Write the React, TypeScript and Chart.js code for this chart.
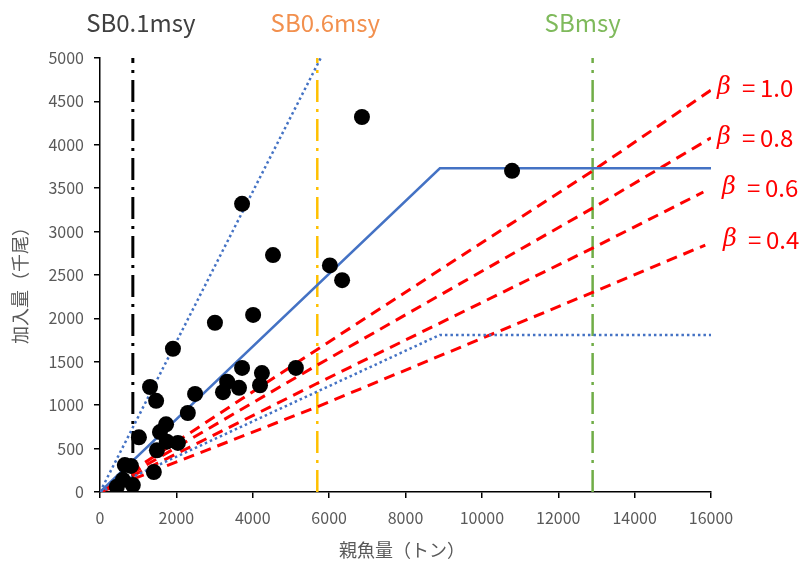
import React, { useEffect, useRef } from 'react';
import { Chart, registerables } from 'chart.js';

Chart.register(...registerables);

// ---- data ----
const spawnerObs = [6860, 10790, 3720, 4530, 6020, 6340, 3010, 4010, 1910, 3720, 4240, 5130, 3330, 3220, 3640, 4190, 2490, 1310, 1470, 2300, 1020, 1730, 1570, 1750, 2040, 1490, 1410, 650, 810, 440, 600, 860];
const recruitObs = [4320, 3700, 3320, 2730, 2610, 2440, 1950, 2040, 1650, 1430, 1370, 1430, 1270, 1150, 1200, 1230, 1130, 1210, 1050, 910, 630, 780, 690, 580, 565, 480, 230, 310, 300, 60, 140, 80];

const hsX = [0, 8900, 16000];
const hsY = [0, 3730, 3730];
const upperX = [0, 5780];
const upperY = [0, 5000];
const lowerX = [0, 8900, 16000];
const lowerY = [0, 1810, 1810];

const betaValues = ['1.0', '0.8', '0.6', '0.4'];
const beta10X = [0, 5680, 12900, 16000];
const beta10Y = [0, 1640, 3700, 4630];
const beta08X = [0, 5680, 12900, 16000];
const beta08Y = [0, 1460, 3270, 4080];
const beta06X = [0, 5680, 12900, 15800];
const beta06Y = [0, 1250, 2810, 3456];
const beta04X = [0, 5680, 12900, 15850];
const beta04Y = [0, 980, 2300, 2845];

const refNames = ['SB0.1msy', 'SB0.6msy', 'SBmsy'];
const refValues = [860, 5690, 12900];
const refColors = ['#000000', '#FFC000', '#70AD47'];
const refTextColors = ['#404040', '#F2904E', '#7FBA5C'];

const xTitle = '親魚量（トン）';
const yTitle = '加入量（千尾）';
const xMax = 16000;
const yMax = 5000;

const FONT = '"Noto Sans CJK JP", "Noto Sans", sans-serif';

const pts = (xs: number[], ys: number[]) => xs.map((x, i) => ({ x, y: ys[i] }));

const textPlugin = {
  id: 'textPlugin',
  afterDraw(chart: any) {
    const ctx = chart.ctx;
    const xs = chart.scales.x;
    ctx.save();
    // reference point labels
    ctx.font = `24px ${FONT}`;
    ctx.textAlign = 'center';
    ctx.textBaseline = 'middle';
    refNames.forEach((n, i) => {
      ctx.fillStyle = refTextColors[i];
      const px = xs.getPixelForValue(refValues[i]);
      ctx.fillText(n, px + (i === 2 ? -10 : 8), 23);
    });
    // beta labels
    const betaPos = [[717, 88], [717, 138], [722, 188], [723, 240]];
    betaValues.forEach((v, i) => {
      const [bx, by] = betaPos[i];
      ctx.textAlign = 'left';
      ctx.fillStyle = '#FF0000';
      ctx.font = `italic 24px "DejaVu Serif", serif`;
      ctx.fillText('β', bx, by);
      ctx.font = `24px ${FONT}`;
      ctx.fillText('=', bx + 25, by);
      ctx.fillText(v, bx + 43, by);
    });
    // axis titles
    ctx.fillStyle = '#595959';
    ctx.font = `18px ${FONT}`;
    ctx.textAlign = 'center';
    ctx.fillText(xTitle, 402, 550);
    ctx.translate(20, 281);
    ctx.rotate(-Math.PI / 2);
    ctx.fillText(yTitle, 0, 0);
    ctx.restore();
  },
};

export default function App() {
  const ref = useRef<HTMLCanvasElement | null>(null);
  useEffect(() => {
    if (!ref.current) return;
    const lineBase = { showLine: true, pointRadius: 0, fill: false, tension: 0, borderCapStyle: 'butt' as const };
    const betaSets = [
      [beta10X, beta10Y],
      [beta08X, beta08Y],
      [beta06X, beta06Y],
      [beta04X, beta04Y],
    ].map(([xs, ys], i) => ({
      ...lineBase,
      label: 'β=' + betaValues[i],
      data: pts(xs, ys),
      borderColor: '#FF0000',
      borderWidth: 3,
      borderDash: [11, 7],
    }));
    const refSets = refValues.map((v, i) => ({
      ...lineBase,
      label: refNames[i],
      data: [{ x: v, y: 0 }, { x: v, y: yMax }],
      borderColor: refColors[i],
      borderWidth: i === 0 ? 3 : 2.5,
      borderDash: [22, 7, 3, 7],
    }));
    const chart = new Chart(ref.current, {
      type: 'scatter',
      data: {
        datasets: [
          {
            label: 'obs',
            data: pts(spawnerObs, recruitObs),
            pointRadius: 8,
            backgroundColor: '#000000',
            borderWidth: 0,
            showLine: false,
          } as any,
          { ...lineBase, label: 'HS', data: pts(hsX, hsY), borderColor: '#4472C4', borderWidth: 2.5 },
          { ...lineBase, label: 'upper', data: pts(upperX, upperY), borderColor: '#4472C4', borderWidth: 2.5, borderDash: [2.5, 3] },
          { ...lineBase, label: 'lower', data: pts(lowerX, lowerY), borderColor: '#4472C4', borderWidth: 2.5, borderDash: [2.5, 3] },
          ...betaSets,
          ...refSets,
        ],
      },
      options: {
        animation: false,
        responsive: false,
        maintainAspectRatio: false,
        layout: { padding: { left: 0, top: 58, right: 88, bottom: 0 } },
        plugins: { legend: { display: false }, tooltip: { enabled: false } },
        scales: {
          x: {
            type: 'linear',
            min: 0,
            max: xMax,
            afterFit: (s: any) => { s.height = 71; },
            ticks: { stepSize: 2000, color: '#595959', font: { size: 16, family: FONT }, padding: 10, maxRotation: 0, callback: (v: any) => String(v) },
            grid: { drawOnChartArea: false, drawTicks: true, tickLength: 6, color: '#000000', lineWidth: 1.5 },
            border: { display: true, color: '#000000', width: 1.5 },
          },
          y: {
            type: 'linear',
            min: 0,
            max: yMax,
            afterFit: (s: any) => { s.width = 100; },
            ticks: { stepSize: 500, color: '#595959', font: { size: 16, family: FONT }, padding: 10, callback: (v: any) => String(v) },
            grid: { drawOnChartArea: false, drawTicks: true, tickLength: 6, color: '#000000', lineWidth: 1.5 },
            border: { display: true, color: '#000000', width: 1.5 },
          },
        },
      },
      plugins: [textPlugin],
    });
    return () => chart.destroy();
  }, []);
  return (
    <div style={{ position: 'fixed', left: 0, top: 0, width: 799, height: 563, background: '#fff' }}>
      <canvas ref={ref} width={799} height={563} style={{ width: 799, height: 563, display: 'block' }} />
    </div>
  );
}
